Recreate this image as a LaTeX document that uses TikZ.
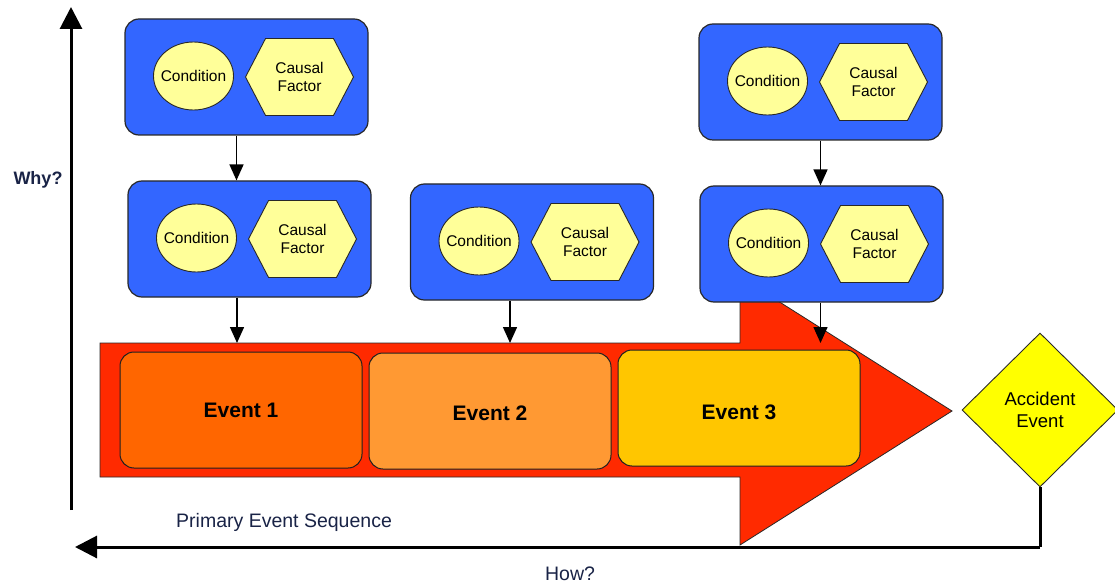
\documentclass[tikz,border=0pt]{standalone}
\usepackage{fontspec}
\setmainfont{Liberation Sans}
\usetikzlibrary{shapes.geometric,shapes.symbols,arrows.meta}
\definecolor{boxblue}{RGB}{51,102,255}
\definecolor{paleyellow}{RGB}{255,255,153}
\definecolor{arrowred}{RGB}{255,42,0}
\definecolor{evone}{RGB}{255,102,0}
\definecolor{evtwo}{RGB}{255,153,51}
\definecolor{evthree}{RGB}{255,198,0}
\definecolor{accident}{RGB}{255,255,0}
\definecolor{edge}{RGB}{40,40,40}
\definecolor{labelink}{RGB}{25,35,70}

\tikzset{
  bluebox/.style={draw=edge, line width=1.2pt, fill=boxblue, rounded corners=14pt,
    minimum width=243pt, minimum height=116pt, inner sep=0pt},
  cond/.style={ellipse, draw=edge, line width=0.9pt, fill=paleyellow,
    minimum width=80pt, minimum height=68pt, inner sep=0pt,
    font=\fontsize{15.5}{17}\selectfont},
  factor/.style={signal, signal to=east and west, signal pointer angle=125,
    draw=edge, line width=0.9pt, fill=paleyellow,
    minimum width=108pt, minimum height=77pt, inner sep=0pt, align=center,
    font=\fontsize{15.5}{18}\selectfont},
  eventbox/.style={draw=edge!80!black, line width=1pt, rounded corners=14pt,
    minimum width=242pt, minimum height=116pt, inner sep=0pt},
  eventtext/.style={font=\bfseries\fontsize{21}{24}\selectfont, inner sep=0pt},
  link/.style={line width=1.5pt, -{Triangle[length=16pt,width=14pt]}},
  axis/.style={line width=3pt, -{Triangle[length=22pt,width=22pt]}},
  axislabel/.style={text=labelink, font=\fontsize{19.5}{22}\selectfont, inner sep=0pt}
}

% one cause block: blue frame holding a condition and a causal factor
\newcommand\causebox[3]{%
  \node[bluebox] (#1) at (#2,#3) {};
  \node[cond] (#1-c) at ([xshift=-53pt,yshift=1pt]#1.center) {\makebox[0pt]{Condition}};
  \node[factor] (#1-f) at ([xshift=53pt]#1.center) {Causal\\Factor};
}

\begin{document}
\begin{tikzpicture}[x=1pt,y=-1pt]
\useasboundingbox (0,0) rectangle (1115,585);

% primary event sequence arrow
\draw[draw=edge, line width=0.8pt, fill=arrowred]
  (100,343) -- (740,343) -- (740,277) -- (952,411) -- (740,545)
  -- (740,477) -- (100,477) -- cycle;
\coordinate (bartop) at (0,343);

\node[eventbox, fill=evone,
  label={[eventtext]center:Event 1}] (e1) at (241,410) {};
\node[eventbox, fill=evtwo,
  label={[eventtext, yshift=-2pt]center:Event 2}] (e2) at (490,411) {};
\node[eventbox, fill=evthree,
  label={[eventtext, yshift=-4pt]center:Event 3}] (e3) at (739,408) {};

% cause blocks
\causebox{b1}{246.5}{77}
\causebox{b2}{249.5}{239}
\causebox{b3}{532}{242}
\causebox{b4}{820.5}{82}
\causebox{b5}{821.5}{244}

\draw[link] ([xshift=-10pt]b1.south) -- ([xshift=-10pt]b1.south |- b2.north);
\draw[link] ([xshift=-12.5pt]b2.south) -- ([xshift=-12.5pt]b2.south |- bartop);
\draw[link] ([xshift=-22pt]b3.south) -- ([xshift=-22pt]b3.south |- bartop);
\draw[link] (b4.south) -- (b4.south |- b5.north);
\draw[link] ([xshift=-1pt]b5.south) -- ([xshift=-1pt]b5.south |- bartop);

% accident event
\node[diamond, aspect=1, draw=edge, line width=0.9pt, fill=accident,
  minimum width=156pt, minimum height=154pt, inner sep=0pt, align=center,
  font=\fontsize{18.5}{22}\selectfont] (acc) at (1040,410) {Accident\\Event};

% why / how axes
\coordinate (whybase) at (71,510);
\coordinate (whytip) at (71,7);
\draw[axis] (whybase) -- (whytip);

\coordinate (howcorner) at (1042,547);
\coordinate (howtip) at (75,547);
\draw[line width=3pt] (acc.south) -- (acc.south |- howcorner);
\draw[axis] (acc.south |- howcorner) -- (howtip);

\node[axislabel, font=\bfseries\fontsize{18}{22}\selectfont] (why) at (38,180) {Why?};
\node[axislabel, anchor=west] (seq) at (176,522) {Primary Event Sequence};
\node[axislabel] (how) at (570,574) {How?};
\end{tikzpicture}
\end{document}
